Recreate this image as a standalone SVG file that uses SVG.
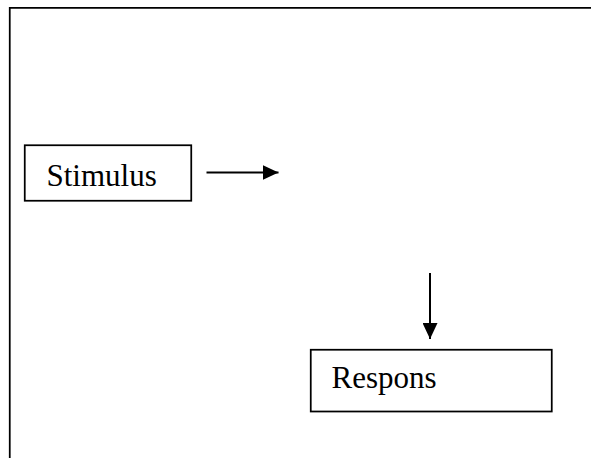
<svg xmlns="http://www.w3.org/2000/svg" width="591" height="458" viewBox="0 0 591 458">
  <style>
    .frame { fill: none; stroke: #000; stroke-width: 1.75; }
    .box { fill: #fff; stroke: #000; stroke-width: 1.75; }
    .label { font-family: "Liberation Serif", "Times New Roman", serif; font-size: 31px; fill: #000; }
    .conn { stroke: #000; stroke-width: 2; fill: none; }
  </style>
  <defs>
    <marker id="ah" markerWidth="16" markerHeight="15" refX="16" refY="7.5" orient="auto" markerUnits="userSpaceOnUse">
      <path d="M0,0 L16,7.5 L0,15 Z" fill="#000"/>
    </marker>
  </defs>
  <path class="frame" d="M9.75,458 V7.75 H591"/>
  <g id="stimulus">
    <rect class="box" x="24.75" y="145.25" width="166.5" height="55.5"/>
    <text class="label" x="46.5" y="186">Stimulus</text>
  </g>
  <g id="respons">
    <rect class="box" x="310.75" y="349.75" width="241" height="61.75"/>
    <text class="label" x="331.5" y="388">Respons</text>
  </g>
  <g id="connectors">
    <line class="conn" x1="206.5" y1="172.5" x2="278.5" y2="172.5" marker-end="url(#ah)"/>
    <line class="conn" x1="430" y1="273" x2="430" y2="339" marker-end="url(#ah)"/>
  </g>
</svg>
